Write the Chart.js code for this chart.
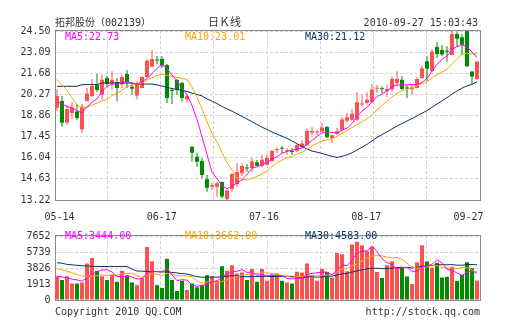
<!DOCTYPE html>
<html>
<head>
<meta charset="utf-8">
<script src="https://cdn.jsdelivr.net/npm/chart.js@4/dist/chart.umd.min.js"></script>
<style>
  html, body { margin: 0; padding: 0; background: #fff; }
  #wrap { position: relative; width: 505px; height: 330px; overflow: hidden;
          font-family: "DejaVu Sans Mono", "Noto Sans CJK SC", monospace; font-size: 10px; color: #333; }
  #wrap canvas { position: absolute; left: 0; }
  #klineChart { top: 0; }
  #volumeChart { top: 226px; }
  .txt { position: absolute; white-space: nowrap; line-height: 10px; }
</style>
</head>
<body>
<div id="wrap">
  <canvas id="klineChart" width="505" height="226" style="width:505px;height:226px"></canvas>
  <canvas id="volumeChart" width="505" height="104" style="width:505px;height:104px"></canvas>

  <div class="txt" style="left:55px; top:17.5px;">拓邦股份（002139）</div>
  <div class="txt" style="left:208px; top:17px; font-size:11px; line-height:11px;">日Ｋ线</div>
  <div class="txt" style="right:27px; top:17.5px;">2010-09-27 15:03:43</div>

  <div class="txt" style="left:65px; top:31.5px; color:#ff00ff;">MA5:22.73</div>
  <div class="txt" style="left:185px; top:31.5px; color:#ffa500;">MA10:23.01</div>
  <div class="txt" style="left:305px; top:31.5px; color:#0e3463;">MA30:21.12</div>

  <div class="txt" style="left:65px; top:231px; color:#ff00ff;">MA5:3444.00</div>
  <div class="txt" style="left:185px; top:231px; color:#ffa500;">MA10:3662.00</div>
  <div class="txt" style="left:305px; top:231px; color:#0e3463;">MA30:4583.00</div>

  <div class="txt" style="left:55px; top:306.5px;">Copyright 2010 QQ.COM</div>
  <div class="txt" style="right:25px; top:306.5px;">http://stock.qq.com</div>
</div>

<script>
// daily bars, oldest first
const opens = [
  19.38, 19.83, 18.38, 19.03, 19.13, 17.94, 19.83, 20.16, 20.90, 20.25,
  21.36, 20.98, 21.10, 20.93, 21.63, 20.78, 20.19, 20.69, 21.43, 22.12,
  22.58, 22.63, 22.23, 20.56, 21.23, 21.03, 19.93, 16.78, 16.11, 15.82,
  14.60, 14.12, 14.11, 14.42, 13.29, 13.95, 14.29, 15.00, 15.37, 15.36,
  15.74, 15.51, 15.58, 15.80, 16.56, 16.69, 16.48, 16.47, 16.51, 16.76,
  16.89, 17.72, 17.72, 17.79, 18.09, 17.36, 17.62, 17.91, 18.51, 18.58,
  18.58, 19.59, 19.69, 19.76, 20.65, 20.66, 20.51, 20.59, 21.03, 21.25,
  20.73, 20.61, 20.69, 21.36, 22.48, 21.83, 23.43, 23.23, 23.17, 22.90,
  24.30, 24.08, 24.50, 21.80, 21.30
];
const highs = [
  20.61, 20.16, 19.56, 19.76, 19.63, 19.63, 20.69, 21.30, 21.63, 21.58,
  21.50, 21.81, 21.36, 21.58, 21.90, 21.03, 21.13, 21.50, 22.60, 23.23,
  22.83, 22.83, 22.30, 20.63, 21.30, 21.10, 20.23, 16.82, 16.37, 16.02,
  14.89, 14.37, 14.44, 14.45, 13.95, 14.99, 15.69, 15.66, 15.62, 16.02,
  15.91, 16.24, 16.24, 16.56, 16.72, 16.82, 16.69, 16.67, 16.96, 17.22,
  17.99, 18.07, 17.91, 18.36, 18.16, 17.58, 18.03, 18.76, 19.03, 19.29,
  20.41, 20.25, 20.41, 20.96, 20.92, 20.81, 20.92, 21.46, 21.81, 21.48,
  20.92, 20.92, 21.41, 22.21, 22.81, 23.30, 23.77, 23.56, 23.50, 24.50,
  24.47, 24.30, 24.50, 21.81, 22.48
];
const lows = [
  19.18, 18.11, 18.23, 18.63, 18.56, 17.69, 19.79, 20.09, 20.43, 19.91,
  20.80, 20.58, 19.79, 20.69, 20.69, 20.25, 19.93, 20.66, 21.36, 22.10,
  22.26, 22.03, 19.69, 19.63, 20.23, 19.79, 19.69, 15.78, 15.44, 14.69,
  13.77, 13.89, 13.44, 13.33, 13.22, 13.77, 14.09, 14.82, 15.09, 15.09,
  15.49, 15.40, 15.53, 15.80, 16.36, 16.36, 16.22, 16.22, 16.42, 16.69,
  16.80, 17.54, 17.54, 17.76, 17.36, 17.02, 17.58, 17.80, 18.36, 18.51,
  18.51, 19.47, 19.58, 19.69, 20.36, 20.36, 20.07, 20.47, 20.81, 20.58,
  20.03, 20.25, 20.66, 21.32, 21.14, 21.76, 22.70, 22.83, 22.45, 22.88,
  23.45, 22.90, 22.10, 20.92, 21.23
];
const closes = [
  20.16, 18.38, 19.27, 19.39, 18.69, 19.45, 20.33, 20.83, 20.56, 21.25,
  20.96, 21.25, 20.70, 21.43, 21.10, 20.65, 20.96, 21.43, 22.53, 22.63,
  22.53, 22.20, 20.03, 20.50, 20.56, 20.03, 20.16, 16.38, 15.78, 14.89,
  14.04, 14.22, 14.33, 13.45, 13.85, 14.95, 15.09, 15.49, 15.32, 15.80,
  15.51, 15.91, 16.02, 16.51, 16.62, 16.64, 16.52, 16.42, 16.89, 16.99,
  17.83, 17.83, 17.78, 18.06, 17.40, 17.54, 17.80, 18.60, 18.74, 18.98,
  19.75, 19.66, 19.91, 20.60, 20.69, 20.61, 20.63, 21.30, 21.30, 20.63,
  20.66, 20.74, 21.30, 22.00, 21.98, 23.14, 22.96, 22.93, 23.12, 24.30,
  23.99, 23.59, 22.15, 21.46, 22.46
];
const volumes = [
  2840, 2400, 2840, 1970, 1970, 2080, 4370, 5030, 3500, 2840,
  2400, 3060, 2190, 3500, 2950, 2080, 1750, 2620, 6340, 4590,
  1750, 1420, 4920, 2400, 1090, 2300, 1200, 1970, 1530, 1750,
  2950, 2840, 2300, 4040, 3500, 4150, 3170, 3280, 2400, 3720,
  2190, 3720, 2300, 3060, 3170, 2300, 2080, 1970, 3390, 3280,
  4370, 2950, 2300, 3720, 3350, 2700, 5610, 5470, 3430, 6630,
  6956, 6560, 5830, 6340, 3350, 2620, 4150, 4630, 3900, 3970,
  2800, 1900, 4520, 6560, 4590, 3860, 4450, 2700, 2770, 3970,
  2260, 2990, 4520, 3790, 2330
];

// averages carried in from before the first bar shown
const ma5Lead = [19.78, 19.63, 19.45, 19.39];
const ma10Lead = [21.28, 20.90, 20.53, 20.03, 19.56, 19.34, 19.43, 19.56, 19.69];
const ma30Lead = [
  20.81, 20.81, 20.81, 20.81, 20.81, 20.92, 20.92, 20.92, 20.92, 21.03,
  21.03, 21.03, 21.03, 21.03, 21.03, 21.03, 20.96, 20.96, 20.96, 20.96,
  20.90, 20.83, 20.73, 20.66, 20.60, 20.53, 20.46, 20.36, 20.26
];
const vma5Lead = [2850, 2750, 2650, 2500];
const vma10Lead = [3720, 3600, 3450, 3250, 3050, 2850, 2800, 2850, 2900];
const vma30Lead = [
  4450, 4400, 4260, 4200, 4150, 4100, 4060, 4030, 4010, 4000,
  4000, 4000, 4000, 4000, 4000, 3700, 3460, 3450, 3420, 3400,
  3380, 3360, 3350, 3300, 3230, 3160, 3100, 2950, 2800
];

// axis labels
const priceTicks = [13.22, 14.63, 16.04, 17.45, 18.86, 20.27, 21.68, 23.09, 24.50];
const volumeTicks = [0, 1913, 3826, 5739, 7652];
const dateLabels = ['05-14', '06-17', '07-16', '08-17', '09-27'];

const RED = '#ff5050';
const GREEN = '#008c00';
const MA5_COLOR = '#ff00ff';
const MA10_COLOR = '#ffa500';
const MA30_COLOR = '#0e3463';
const GRID = '#d3d3d3';
const FRAME = '#8a8a8a';

Chart.defaults.font.family = '"DejaVu Sans Mono", monospace';
Chart.defaults.font.size = 10;
Chart.defaults.color = '#333';

function movingAverage(values, n, lead) {
  return values.map((v, i) => {
    if (i < n - 1) return lead[i];
    let sum = 0;
    for (let k = i - n + 1; k <= i; k++) sum += values[k];
    return sum / n;
  });
}

const index = closes.map((_, i) => i);
const barColors = closes.map((c, i) => (c >= opens[i] ? RED : GREEN));

// grey box round the plot area
const framePlugin = {
  id: 'frame',
  beforeDatasetsDraw(chart) {
    const a = chart.chartArea;
    const ctx = chart.ctx;
    ctx.save();
    ctx.strokeStyle = FRAME;
    ctx.lineWidth = 1;
    ctx.strokeRect(Math.round(a.left) + 0.5, Math.round(a.top) - 0.5,
      Math.round(a.right - a.left), Math.round(a.bottom - a.top) + 1);
    ctx.restore();
  }
};

function maLine(data, color) {
  return {
    type: 'line', data: data, borderColor: color, borderWidth: 1,
    pointRadius: 0, tension: 0, fill: false, order: 0,
    xAxisID: 'x', yAxisID: 'y'
  };
}

function barSet(data, thickness, order) {
  return {
    type: 'bar', data: data, backgroundColor: barColors, borderWidth: 0,
    barThickness: thickness, grouped: false, inflateAmount: 0, minBarLength: 1,
    order: order, xAxisID: 'x', yAxisID: 'y'
  };
}

// eight even columns of dashed grid
const gridColumns = {
  type: 'linear', position: 'bottom', min: 0, max: 8, offset: false,
  afterBuildTicks: s => { s.ticks = [1, 2, 3, 4, 5, 6, 7].map(v => ({ value: v })); },
  afterFit: s => { s.height = 0; },
  ticks: { display: false },
  grid: { color: GRID, drawTicks: false, offset: false },
  border: { display: false, dash: [3, 2] }
};

function valueAxis(min, max, ticks, fmt) {
  return {
    position: 'left', min: min, max: max,
    afterBuildTicks: s => { s.ticks = ticks.map(v => ({ value: v })); },
    afterFit: s => { s.width = 54.5; },
    ticks: { callback: fmt, padding: 4 },
    grid: { color: GRID, drawTicks: false },
    border: { display: false, dash: [3, 2] }
  };
}

// price panel
new Chart(document.getElementById('klineChart'), {
  type: 'bar',
  data: {
    labels: index,
    datasets: [
      maLine(movingAverage(closes, 5, ma5Lead), MA5_COLOR),
      maLine(movingAverage(closes, 10, ma10Lead), MA10_COLOR),
      maLine(movingAverage(closes, 30, ma30Lead), MA30_COLOR),
      barSet(opens.map((o, i) => [o, closes[i]]), 4, 1),
      barSet(lows.map((l, i) => [l, highs[i]]), 1, 2)
    ]
  },
  options: {
    responsive: false,
    animation: false,
    events: [],
    layout: { padding: { top: 31, right: 25.5, bottom: 0, left: 0 } },
    plugins: { legend: { display: false }, tooltip: { enabled: false } },
    scales: {
      x: { type: 'category', display: false, offset: true },
      xg: gridColumns,
      xt: {
        type: 'linear', position: 'bottom', min: -0.049, max: 4.108, offset: false,
        afterBuildTicks: s => { s.ticks = dateLabels.map((_, k) => ({ value: k })); },
        afterFit: s => { s.height = 26; },
        ticks: { callback: v => dateLabels[v], padding: 11, maxRotation: 0, autoSkip: false },
        grid: { display: false, drawTicks: false, offset: false },
        border: { display: false }
      },
      y: valueAxis(13.22, 24.5, priceTicks, v => v.toFixed(2))
    }
  },
  plugins: [framePlugin]
});

// volume panel
new Chart(document.getElementById('volumeChart'), {
  type: 'bar',
  data: {
    labels: index,
    datasets: [
      maLine(movingAverage(volumes, 5, vma5Lead), MA5_COLOR),
      maLine(movingAverage(volumes, 10, vma10Lead), MA10_COLOR),
      maLine(movingAverage(volumes, 30, vma30Lead), MA30_COLOR),
      barSet(volumes, 4, 1)
    ]
  },
  options: {
    responsive: false,
    animation: false,
    events: [],
    layout: { padding: { top: 5, right: 25.5, bottom: 30, left: 0 } },
    plugins: { legend: { display: false }, tooltip: { enabled: false } },
    scales: {
      x: { type: 'category', display: false, offset: true },
      xg: gridColumns,
      y: valueAxis(0, 7652, volumeTicks, v => String(v))
    }
  },
  plugins: [framePlugin]
});
</script>
</body>
</html>
